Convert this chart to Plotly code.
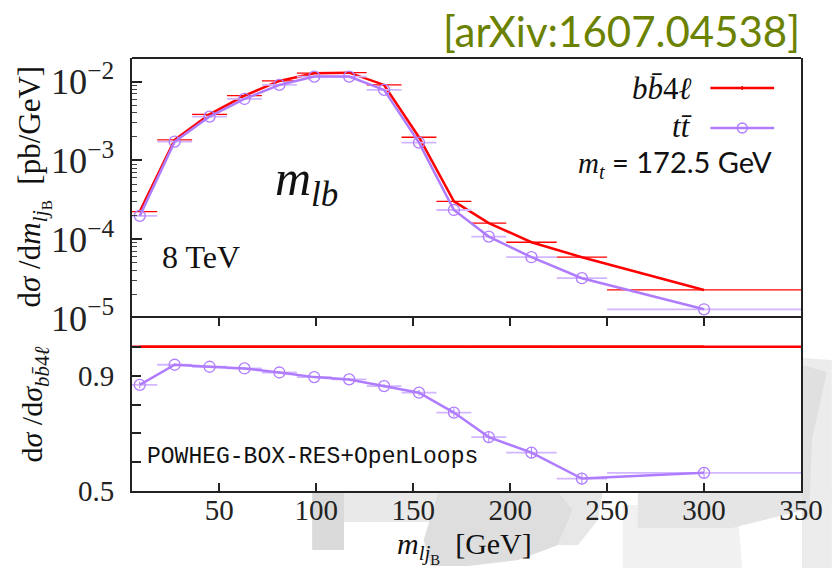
import plotly.graph_objects as go

# ---------------- data ----------------
bin_lo = [0, 18, 36, 54, 72, 90, 108, 126, 144, 162, 180, 198, 224, 250]
bin_hi = [18, 36, 54, 72, 90, 108, 126, 144, 162, 180, 198, 224, 250, 350]
bb4l = [2.24e-4, 1.82e-3, 3.85e-3, 6.64e-3, 1.02e-2, 1.28e-2, 1.30e-2,
        9.08e-3, 1.97e-3, 3.03e-4, 1.60e-4, 9.16e-5, 5.91e-5, 2.27e-5]
ttbar = [1.98e-4, 1.73e-3, 3.60e-3, 6.03e-3, 9.08e-3, 1.16e-2, 1.16e-2,
         7.85e-3, 1.68e-3, 2.35e-4, 1.08e-4, 5.91e-5, 3.20e-5, 1.29e-5]
ratio_tt = [0.868, 0.938, 0.931, 0.925, 0.911, 0.895, 0.887,
            0.864, 0.841, 0.772, 0.687, 0.633, 0.543, 0.563]
ratio_err = [0.012, 0.005, 0.004, 0.004, 0.004, 0.004, 0.004,
             0.006, 0.010, 0.015, 0.020, 0.020, 0.020, 0.020]
ratio_ref = [1.0] * len(bin_lo)
x_ticks = [50, 100, 150, 200, 250, 300, 350]
ratio_ticks = [0.5, 0.6, 0.7, 0.8, 0.9, 1.0]
ratio_ticktext = ["0.5", "", "", "", "0.9", ""]

centers = [(a + b) / 2 for a, b in zip(bin_lo, bin_hi)]
err_plus = [b - c for b, c in zip(bin_hi, centers)]
err_minus = [c - a for a, c in zip(bin_lo, centers)]

RED = "#ff0000"
PURPLE = "#b07cff"
PURPLE_L = "#d2b6ff"
SERIF = "'Liberation Serif', 'Times New Roman', 'DejaVu Serif', serif"

# pixel geometry helpers (plot area 132..804 x, 58..491 y)
W, H = 835, 568
L, R, T, B = 132, 31, 58, 77
PW, PH = W - L - R, H - T - B


def px(x):
    return (x - L) / PW


def py(y):
    return (H - B - y) / PH


fig = go.Figure()

# upper panel
fig.add_trace(go.Scatter(
    x=centers, y=bb4l, mode="lines", xaxis="x", yaxis="y",
    line=dict(color=RED, width=2.5),
    error_x=dict(type="data", symmetric=False, array=err_plus, arrayminus=err_minus,
                 color=RED, thickness=1.3, width=0),
    showlegend=False))
fig.add_trace(go.Scatter(
    x=centers, y=ttbar, mode="lines+markers", xaxis="x", yaxis="y",
    line=dict(color=PURPLE, width=2.5),
    marker=dict(symbol="circle-open", size=11, color=PURPLE, line=dict(width=1.3)),
    error_x=dict(type="data", symmetric=False, array=err_plus, arrayminus=err_minus,
                 color=PURPLE_L, thickness=1.8, width=0),
    showlegend=False))

# lower panel
fig.add_trace(go.Scatter(
    x=centers, y=ratio_ref, mode="lines", xaxis="x2", yaxis="y2",
    line=dict(color=RED, width=2.5),
    error_x=dict(type="data", symmetric=False, array=err_plus, arrayminus=err_minus,
                 color=RED, thickness=2.5, width=0),
    showlegend=False))
fig.add_trace(go.Scatter(
    x=centers, y=ratio_tt, mode="lines+markers", xaxis="x2", yaxis="y2",
    line=dict(color=PURPLE, width=2.5),
    marker=dict(symbol="circle-open", size=11, color=PURPLE, line=dict(width=1.3)),
    error_x=dict(type="data", symmetric=False, array=err_plus, arrayminus=err_minus,
                 color=PURPLE_L, thickness=1.8, width=0),
    error_y=dict(type="data", array=ratio_err, color=PURPLE, thickness=1, width=0),
    showlegend=False))

split = 0.3995
axis_common = dict(linecolor="#222", linewidth=2, showgrid=False, zeroline=False)
tickfont = dict(family=SERIF, size=29, color="#222")

fig.update_layout(
    width=W, height=H,
    margin=dict(l=L, r=R, t=T, b=B),
    font=dict(family=SERIF, size=28, color="#222"),
    paper_bgcolor="white", plot_bgcolor="white",
    xaxis=dict(domain=[0, 1], anchor="y", range=[5, 350], ticks="",
               showticklabels=False, showline=False, **axis_common),
    yaxis=dict(domain=[split, 1], anchor="x", type="log", range=[-5, -1.70],
               dtick=1, exponentformat="power", showexponent="all",
               showline=True, mirror=True,
               ticks="inside", ticklen=10, tickwidth=1.5, tickcolor="#222",
               minor=dict(ticks="inside", ticklen=5, tickwidth=1, tickcolor="#444"),
               tickfont=tickfont, ticklabelstandoff=10, **axis_common),
    xaxis2=dict(domain=[0, 1], anchor="y2", range=[5, 350], tickvals=x_ticks,
                showline=True, mirror="ticks",
                ticks="inside", ticklen=8, tickwidth=1.5, tickcolor="#222",
                tickfont=tickfont, ticklabelstandoff=-8, **axis_common),
    yaxis2=dict(domain=[0, split], anchor="x2", range=[0.5, 1.1],
                tickvals=ratio_ticks, ticktext=ratio_ticktext,
                showline=True, mirror=True,
                ticks="inside", ticklen=9, tickwidth=1.5, tickcolor="#222",
                tickfont=tickfont, ticklabelstandoff=10, **axis_common),
)

# background watermark (outside plot area), then white cover over plot area
shapes = []


def poly(pts, color):
    path = "M " + " L ".join(f"{px(a):.4f},{py(b):.4f}" for a, b in pts) + " Z"
    shapes.append(dict(type="path", xref="paper", yref="paper", path=path,
                       fillcolor=color, line=dict(width=0), layer="below"))


poly([(313, 491), (345, 491), (345, 550), (313, 550)], "#dadada")
poly([(345, 491), (445, 491), (432, 522), (345, 522)], "#e9e9e9")
poly([(440, 491), (560, 491), (575, 510), (560, 545), (520, 560), (470, 566),
      (432, 566), (425, 540)], "#dedede")
poly([(560, 491), (605, 491), (600, 520), (580, 545), (560, 545), (575, 510)], "#e7e7e7")
poly([(625, 505), (740, 505), (745, 568), (625, 568)], "#f1f1f1")
poly([(640, 491), (835, 491), (835, 503), (735, 528), (640, 528)], "#e5e5e5")
poly([(805, 358), (835, 360), (835, 568), (805, 568)], "#ececec")
poly([(805, 365), (830, 372), (815, 440), (812, 520), (805, 520)], "#e0e0e0")
shapes.append(dict(type="rect", xref="paper", yref="paper", x0=0, x1=1, y0=0, y1=1,
                   fillcolor="white", line=dict(width=0), layer="below"))
# top border of upper panel
shapes.append(dict(type="line", xref="paper", yref="paper", x0=0, x1=1, y0=1, y1=1,
                   line=dict(color="#222", width=2)))

# legend samples
shapes.append(dict(type="line", xref="paper", yref="paper", x0=px(713), x1=px(777),
                   y0=py(88), y1=py(88), line=dict(color=RED, width=2.5)))
shapes.append(dict(type="line", xref="paper", yref="paper", x0=px(745), x1=px(745),
                   y0=py(86), y1=py(90), line=dict(color=RED, width=1.5)))
shapes.append(dict(type="line", xref="paper", yref="paper", x0=px(713), x1=px(777),
                   y0=py(128), y1=py(128), line=dict(color=PURPLE, width=2.5)))
shapes.append(dict(type="circle", xref="paper", yref="paper", x0=px(740), x1=px(750),
                   y0=py(133), y1=py(123), line=dict(color=PURPLE, width=1.3),
                   fillcolor="rgba(0,0,0,0)"))
fig.update_layout(shapes=shapes)

ann = []


def text(x, y, s, size, family=SERIF, xanchor="center", color="#111", angle=0):
    ann.append(dict(x=px(x), y=py(y), xref="paper", yref="paper", text=s,
                    showarrow=False, xanchor=xanchor, yanchor="middle",
                    textangle=angle, font=dict(family=family, size=size, color=color)))


text(805, 31, "[arXiv:1607.04538]", 42, family="Lato", xanchor="right", color="#6b8200")
text(697, 88, "<i>b</i><i>b̄</i>4<i>ℓ</i>", 31, xanchor="right")
text(697, 126, "<i>t</i><i>t̄</i>", 31, xanchor="right")
text(777, 163, "<i>m</i><sub><i>t</i></sub><span style='font-family:Lato'> = 172.5 GeV</span>",
     29, xanchor="right")
text(307, 182, "<i>m</i><sub><i>lb</i></sub>", 50)
text(160, 257, "8 TeV", 32, xanchor="left")
text(145, 457, "POWHEG-BOX-RES+OpenLoops", 23, family="Liberation Mono", xanchor="left")
text(33, 186, "d<i>σ</i> /d<i>m</i><sub><i>lj</i><sub>B</sub></sub>  [pb/GeV]", 31, angle=-90)
text(34, 404, "d<i>σ</i> /d<i>σ</i><sub><i>b</i><i>b̄</i>4<i>ℓ</i></sub>", 30, angle=-90)
text(466, 547, "<i>m</i><sub><i>lj</i><sub>B</sub></sub>  [GeV]", 30)
fig.update_layout(annotations=ann)

fig.write_html("out.html")
